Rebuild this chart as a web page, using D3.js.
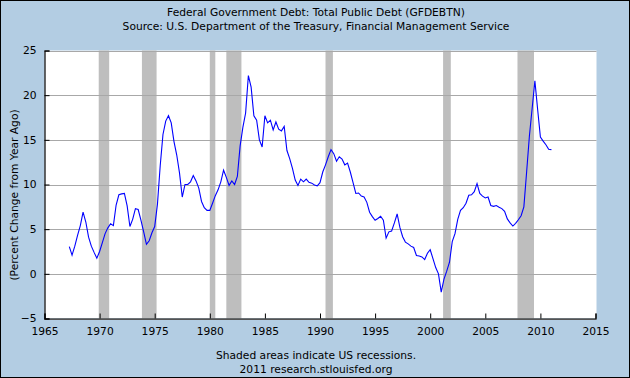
<!DOCTYPE html>
<html>
<head>
<meta charset="utf-8">
<script src="https://cdn.jsdelivr.net/npm/d3@7"></script>
<style>
  body { margin: 0; background: #fff; }
  svg { display: block; font-family: "DejaVu Sans", Verdana, sans-serif; }
</style>
</head>
<body>
<svg width="630" height="378"></svg>
<script>
// quarterly % change from year ago, first point 1967 Q2
const startYear = 1967.25;
const debtChange = [
  3.05, 2.1, 3.1,
  4.3, 5.4, 6.9, 5.8,
  4.1, 3.1, 2.4, 1.75,
  2.5, 3.5, 4.5, 5.15,
  5.6, 5.4, 7.7, 8.85,
  8.95, 9.0, 7.6, 5.3,
  6.1, 7.3, 7.2, 6.0,
  4.7, 3.3, 3.7, 4.6,
  5.3, 7.8, 12.1, 15.6,
  17.1, 17.7, 16.9, 14.8,
  13.3, 11.3, 8.6, 10.0,
  10.0, 10.3, 11.0, 10.4,
  9.6, 8.1, 7.4, 7.1,
  7.1, 7.9, 8.75, 9.4,
  10.3, 11.6, 10.8, 9.9,
  10.4, 10.0, 10.9, 14.3,
  16.4, 18.0, 22.2, 20.9,
  17.7, 17.2, 15.0, 14.2,
  17.7, 16.9, 17.2, 16.1,
  17.0, 16.2, 16.0, 16.5,
  13.8, 12.9, 11.8, 10.5,
  9.9, 10.6, 10.3, 10.6,
  10.25, 10.15, 9.95, 9.85,
  10.2, 11.4, 12.2, 13.1,
  13.9, 13.45, 12.6, 13.1,
  12.85, 12.2, 12.4, 11.4,
  10.2, 9.0, 9.05, 8.7,
  8.6, 8.0, 6.9, 6.4,
  6.0, 6.2, 6.45, 6.0,
  4.0, 4.7, 4.8, 5.7,
  6.7, 5.2, 4.15, 3.55,
  3.35, 3.1, 2.95, 2.05,
  2.0, 1.9, 1.6, 2.3,
  2.7, 1.7, 0.7, 0.0,
  -2.05, -0.6, 0.3, 1.3,
  3.6, 4.5, 6.1, 7.1,
  7.4, 7.9, 8.8, 8.85,
  9.2, 10.1, 9.0, 8.7,
  8.5, 8.6, 7.65, 7.55,
  7.65, 7.45, 7.3, 7.0,
  6.15, 5.7, 5.35, 5.65,
  6.05, 6.5, 7.5, 11.4,
  15.4, 18.5, 21.6, 18.4,
  15.3, 14.85, 14.45, 13.95,
  13.9
];

// recession start / end (decimal years)
const recessionStart = [1969.92, 1973.84, 1980.0, 1981.5, 1990.5, 2001.17, 2007.92];
const recessionEnd = [1970.87, 1975.17, 1980.5, 1982.87, 1991.17, 2001.87, 2009.42];

const xTicks = [1965, 1970, 1975, 1980, 1985, 1990, 1995, 2000, 2005, 2010, 2015];
const yTicks = [-5, 0, 5, 10, 15, 20, 25];

const svg = d3.select("svg");
const width = +svg.attr("width");
const height = +svg.attr("height");
const fontSize = 10.7;

// background + frame
svg.append("rect")
  .attr("x", 0.5).attr("y", 0.5)
  .attr("width", width - 1).attr("height", height - 1)
  .attr("fill", "#b3cde3")
  .attr("stroke", "#000");

const plotLeft = 44.5, plotRight = 595.5, plotTop = 50.5, plotBottom = 318.5;

const x = d3.scaleLinear().domain([1965, 2015]).range([plotLeft, plotRight]);
const y = d3.scaleLinear().domain([-5, 25]).range([plotBottom, plotTop]);

// plot area
svg.append("rect")
  .attr("x", plotLeft).attr("y", plotTop)
  .attr("width", plotRight - plotLeft + 1).attr("height", plotBottom - plotTop)
  .attr("fill", "#fff");

// recessions
svg.append("g")
  .selectAll("rect")
  .data(recessionStart)
  .enter()
  .append("rect")
  .attr("x", (d) => x(d))
  .attr("width", (d, i) => x(recessionEnd[i]) - x(d))
  .attr("y", plotTop)
  .attr("height", plotBottom - plotTop)
  .attr("fill", "#bebebe");

// gridlines
svg.append("g")
  .selectAll("line")
  .data(yTicks)
  .enter()
  .append("line")
  .attr("x1", plotLeft).attr("x2", plotRight + 1)
  .attr("y1", (d) => Math.round(y(d)) + 0.5)
  .attr("y2", (d) => Math.round(y(d)) + 0.5)
  .attr("stroke", "#a8a8a8")
  .attr("stroke-width", 1);

// data line
const points = debtChange.map((v, i) => [startYear + i * 0.25, v]);
svg.append("path")
  .datum(points)
  .attr("d", d3.line().x((d) => x(d[0])).y((d) => y(d[1])))
  .attr("fill", "none")
  .attr("stroke", "#0000ff")
  .attr("stroke-width", 1.1);

// axes (ticks pointing into the plot)
const xAxis = d3.axisBottom(x).tickValues(xTicks).tickSize(-5).tickPadding(9).tickFormat(d3.format("d"));
const gx = svg.append("g")
  .attr("transform", `translate(0,${plotBottom})`)
  .call(xAxis);

const yAxis = d3.axisLeft(y).tickValues(yTicks).tickSize(-5).tickPadding(8);
const gy = svg.append("g")
  .attr("transform", `translate(${plotLeft},0)`)
  .call(yAxis);

[gx, gy].forEach((g) => {
  g.select(".domain").attr("stroke", "#000").attr("stroke-width", 1.2);
  g.selectAll(".tick line").attr("stroke", "#000");
  g.selectAll("text")
    .attr("fill", "#000")
    .style("font-size", fontSize + "px")
    .style("font-family", '"DejaVu Sans", Verdana, sans-serif');
});

// titles
const title = svg.append("g")
  .attr("text-anchor", "middle")
  .attr("font-size", fontSize)
  .attr("fill", "#000");
title.append("text").attr("x", 316).attr("y", 16).text("Federal Government Debt: Total Public Debt (GFDEBTN)");
title.append("text").attr("x", 316).attr("y", 30).text("Source: U.S. Department of the Treasury, Financial Management Service");
title.append("text").attr("x", 316).attr("y", 359).text("Shaded areas indicate US recessions.");
title.append("text").attr("x", 316).attr("y", 373).text("2011 research.stlouisfed.org");

svg.append("text")
  .attr("transform", "translate(18,195) rotate(-90)")
  .attr("text-anchor", "middle")
  .attr("font-size", fontSize)
  .attr("fill", "#000")
  .text("(Percent Change from Year Ago)");
</script>
</body>
</html>
